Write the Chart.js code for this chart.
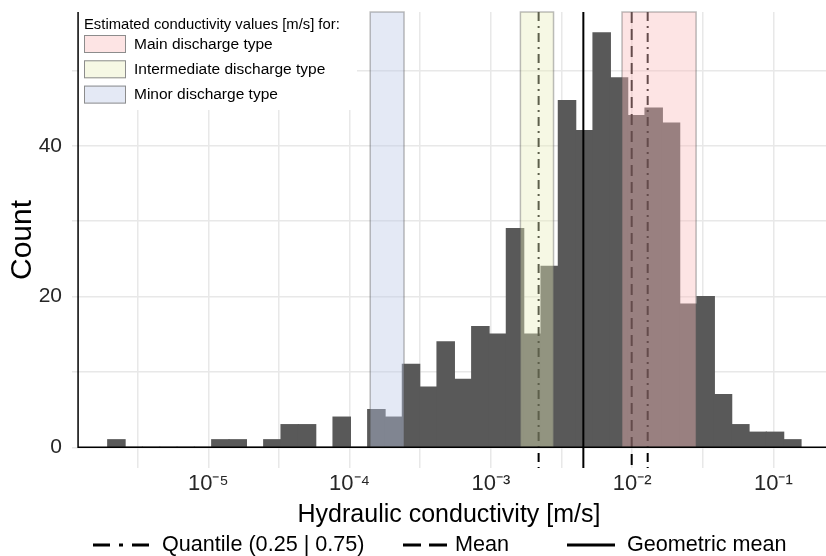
<!doctype html>
<html lang="en">
  <head>
    <meta charset="utf-8">
    <title>Hydraulic conductivity histogram</title>
    <style>
      * {
        margin: 0;
        padding: 0;
      }
      body {
        background: #fff;
      }
    </style>
  </head>
  <body>
    <canvas id="myChart" width="826" height="556"></canvas>
    <script src="https://cdn.jsdelivr.net/npm/chart.js/dist/chart.umd.min.js"></script>
    <script>
    // histogram of log10(K), 40 equal bins
    const binStart = -5.712;
    const binWidth = 0.1227;
    const counts = [1, 0, 0, 0, 0, 0, 1, 1, 0, 1,
                    3, 3, 0, 4, 0, 5, 4, 11, 8, 14,
                    9, 16, 15, 29, 15, 24, 46, 42, 55, 49,
                    44, 45, 43, 19, 20, 7, 3, 2, 2, 1];

    const xTickDecades = [-5, -4, -3, -2, -1];
    const yTickLabels = [0, 20, 40];

    // estimated conductivity per discharge type [m/s]
    const bandNames = ['Main discharge type', 'Intermediate discharge type', 'Minor discharge type'];
    const bandLow = [8.49e-3, 1.62e-3, 1.40e-4];
    const bandHigh = [2.84e-2, 2.78e-3, 2.43e-4];

    // statistics of the sample [m/s]
    const statNames = ['Quantile (0.25 | 0.75)', 'Mean', 'Geometric mean'];
    const quantileK = [2.18e-3, 1.29e-2];
    const meanK = 9.94e-3;
    const geoMeanK = 4.52e-3;

    // styles
    const bandFill = ['rgba(250, 187, 187, 0.4)', 'rgba(232, 237, 187, 0.4)', 'rgba(187, 200, 230, 0.4)'];
    const keyFill = ['#fde4e4', '#f6f8e4', '#e4e9f5'];
    const dashes = [[9, 5, 2, 5], [11, 6], []];
    const axisLineAt = -5.922;
    const FONT = '"Liberation Sans", Arial, sans-serif';

    const sup = n => String(n).split('').map(c => c === '-' ? '\u207B' : '\u2070\u00B9\u00B2\u00B3\u2074\u2075\u2076\u2077\u2078\u2079'['0123456789'.indexOf(c)]).join('');

    const histData = counts.map((c, i) => ({x: binStart + (i + 0.5) * binWidth, y: c}));

    const overlays = {
      id: 'overlays',
      afterDatasetsDraw(chart) {
        const {ctx, chartArea: a, scales: {x, y}} = chart;
        const px = v => x.getPixelForValue(Math.log10(v));
        ctx.save();
        // stat lines go under the bands
        ctx.strokeStyle = '#000';
        ctx.lineWidth = 2;
        const vline = (v, dash) => {
          ctx.setLineDash(dash);
          ctx.beginPath();
          ctx.moveTo(px(v), a.top);
          ctx.lineTo(px(v), a.bottom);
          ctx.stroke();
        };
        quantileK.forEach(q => vline(q, dashes[0]));
        vline(meanK, dashes[1]);
        vline(geoMeanK, dashes[2]);
        ctx.setLineDash([]);

        const y0 = y.getPixelForValue(0);
        bandLow.forEach((lo, i) => {
          const x0 = px(lo), x1 = px(bandHigh[i]);
          ctx.fillStyle = bandFill[i];
          ctx.fillRect(x0, a.top, x1 - x0, y0 - a.top);
          ctx.strokeStyle = 'rgba(90, 90, 90, 0.4)';
          ctx.lineWidth = 1.5;
          ctx.strokeRect(x0, a.top, x1 - x0, y0 - a.top);
        });

        // L-shaped axis lines
        const xl = x.getPixelForValue(axisLineAt);
        ctx.strokeStyle = '#000';
        ctx.lineWidth = 1.5;
        ctx.beginPath();
        ctx.moveTo(xl, a.top);
        ctx.lineTo(xl, y0);
        ctx.lineTo(a.right, y0);
        ctx.stroke();
        ctx.restore();
      },
      afterDraw(chart) {
        const {ctx} = chart;
        ctx.save();
        // inset legend
        ctx.fillStyle = '#fff';
        ctx.fillRect(79, 12, 278, 98);
        ctx.fillStyle = '#000';
        ctx.textBaseline = 'middle';
        ctx.font = '14.8px ' + FONT;
        ctx.fillText('Estimated conductivity values [m/s] for:', 84, 24.5);
        ctx.font = '15.5px ' + FONT;
        bandNames.forEach((name, i) => {
          const top = 35 + i * 25.3;
          ctx.fillStyle = keyFill[i];
          ctx.fillRect(84, top, 42, 18);
          ctx.strokeStyle = '#8c8c8c';
          ctx.lineWidth = 1;
          ctx.strokeRect(84.5, top + 0.5, 41, 17);
          ctx.fillStyle = '#000';
          ctx.fillText(name, 134, top + 9.5);
        });

        // bottom legend
        const ly = 545;
        const items = [[93, 149, 162], [403, 447, 455], [567, 615, 627]];
        const legendDash = [[17, 9, 4, 9], [18, 8], []];
        ctx.font = '21.6px ' + FONT;
        ctx.strokeStyle = '#000';
        ctx.lineWidth = 3;
        statNames.forEach((name, i) => {
          const [x0, x1, tx] = items[i];
          ctx.setLineDash(legendDash[i]);
          ctx.beginPath();
          ctx.moveTo(x0, ly);
          ctx.lineTo(x1, ly);
          ctx.stroke();
          ctx.fillStyle = '#000';
          ctx.fillText(name, tx, ly);
        });
        ctx.restore();
      }
    };

    Chart.defaults.font.family = FONT;

    const config = {
      type: 'bar',
      data: {
        datasets: [{
          label: 'Count',
          data: histData,
          backgroundColor: '#595959',
          borderWidth: 0,
          barPercentage: 1,
          categoryPercentage: 1,
          inflateAmount: 0.6
        }]
      },
      options: {
        responsive: false,
        animation: false,
        events: [],
        layout: {padding: {top: 12, left: 0, right: 0, bottom: 0}},
        plugins: {
          legend: {display: false},
          tooltip: {enabled: false}
        },
        scales: {
          x: {
            type: 'linear',
            min: -5.965,
            max: -0.627,
            offset: false,
            grid: {color: '#e8e8e8', lineWidth: 1.5, drawTicks: false, offset: false},
            border: {display: false},
            ticks: {
              stepSize: 0.5,
              includeBounds: false,
              autoSkip: false,
              maxRotation: 0,
              padding: 3,
              color: '#262626',
              font: {size: 22},
              callback: v => {
                const r = Math.round(v);
                return Math.abs(v - r) < 1e-6 && xTickDecades.includes(r) ? '10' + sup(r) : '';
              }
            },
            title: {
              display: true,
              text: 'Hydraulic conductivity [m/s]',
              color: '#000',
              font: {size: 25},
              padding: {top: 0, bottom: 26}
            },
            afterFit: s => { s.height = 88; s.paddingLeft = 0; s.paddingRight = 0; }
          },
          y: {
            min: -2.75,
            max: 57.75,
            grid: {color: '#e8e8e8', lineWidth: 1.5, drawTicks: false},
            border: {display: false},
            ticks: {
              stepSize: 10,
              includeBounds: false,
              padding: 10,
              color: '#262626',
              font: {size: 21},
              callback: v => yTickLabels.includes(v) ? v : ''
            },
            title: {
              display: true,
              text: 'Count',
              color: '#000',
              font: {size: 30},
              padding: {top: 5, bottom: 0}
            },
            afterFit: s => { s.width = 72; s.paddingTop = 0; s.paddingBottom = 0; }
          }
        }
      },
      plugins: [overlays]
    };

    const myChart = new Chart(document.getElementById('myChart'), config);
    </script>
  </body>
</html>
